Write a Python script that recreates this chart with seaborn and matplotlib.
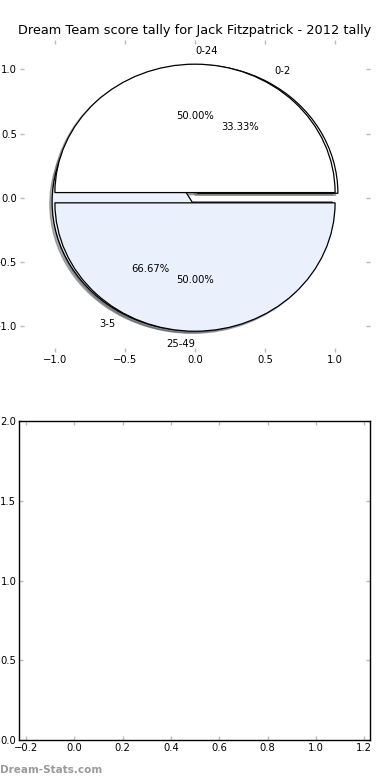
import matplotlib
matplotlib.use("Agg")
import matplotlib.pyplot as plt
import seaborn as sns

# ---- data ----
title = "Dream Team score tally for Jack Fitzpatrick - 2012 tally"
outer_labels = ["0-24", "25-49"]
outer_values = [1, 1]
inner_labels = ["0-2", "3-5"]
inner_values = [1, 2]
slice_colors = ["white", "#eaf0fc"]
top_xticks = [-1.0, -0.5, 0.0, 0.5, 1.0]
top_yticks = [-1.0, -0.5, 0.0, 0.5, 1.0]
bottom_xticks = [-0.2, 0.0, 0.2, 0.4, 0.6, 0.8, 1.0, 1.2]
bottom_yticks = [0.0, 0.5, 1.0, 1.5, 2.0]

sns.set_theme(style="white")
plt.rcParams["font.family"] = ["DejaVu Sans"]
plt.rcParams["font.size"] = 7.2
plt.rcParams["xtick.labelsize"] = 7.2
plt.rcParams["ytick.labelsize"] = 7.2
plt.rcParams["text.color"] = "black"
plt.rcParams["xtick.color"] = "#bbbbbb"
plt.rcParams["ytick.color"] = "#bbbbbb"
plt.rcParams["xtick.labelcolor"] = "black"
plt.rcParams["ytick.labelcolor"] = "black"

fig = plt.figure(figsize=(3.9, 7.8), dpi=100)
ax1 = fig.add_axes([0.051, 0.549, 0.898, 0.400])
ax2 = fig.add_axes([0.049, 0.051, 0.900, 0.409])

wp = dict(edgecolor="black", linewidth=0.9)
shadow = dict(ox=-0.012, oy=-0.012, shade=0.6, label="_nolegend_")
_, t_in, _ = ax1.pie(inner_values, labels=inner_labels, colors=slice_colors,
                     autopct="%1.2f%%", explode=[0.04] * len(inner_values),
                     shadow=shadow, startangle=0, wedgeprops=wp, frame=True)
_, t_out, _ = ax1.pie(outer_values, labels=outer_labels, colors=slice_colors,
                      autopct="%1.2f%%", explode=[0.04] * len(outer_values),
                      shadow=shadow, startangle=0, wedgeprops=wp, frame=True)
# labels exactly on the vertical axis: first slice label to the left-aligned side
t_out[0].set_ha("left")
t_out[1].set_ha("right")

ax1.set_aspect("auto")
ax1.set_xlim(-1.25, 1.25)
ax1.set_ylim(-1.20, 1.23)
ax1.set_xticks(top_xticks)
ax1.set_yticks(top_yticks)
ax1.set_frame_on(False)
ax1.set_title(title, fontsize=9.3, pad=4)

ax2.set_xlim(-0.229, 1.225)
ax2.set_ylim(0, 2)
ax2.set_xticks(bottom_xticks)
ax2.set_yticks(bottom_yticks)
for s in ax2.spines.values():
    s.set_color("black")
    s.set_linewidth(1.0)

for ax in (ax1, ax2):
    ax.tick_params(axis="both", which="both", direction="in", length=3, width=1,
                   top=True, right=True, bottom=True, left=True, pad=2)

fig.text(0.0, 0.007, "Dream-Stats.com", fontsize=7.5, color="#9a9a9a",
         fontweight="bold", ha="left", va="bottom")

fig.savefig("out.png", dpi=100)
